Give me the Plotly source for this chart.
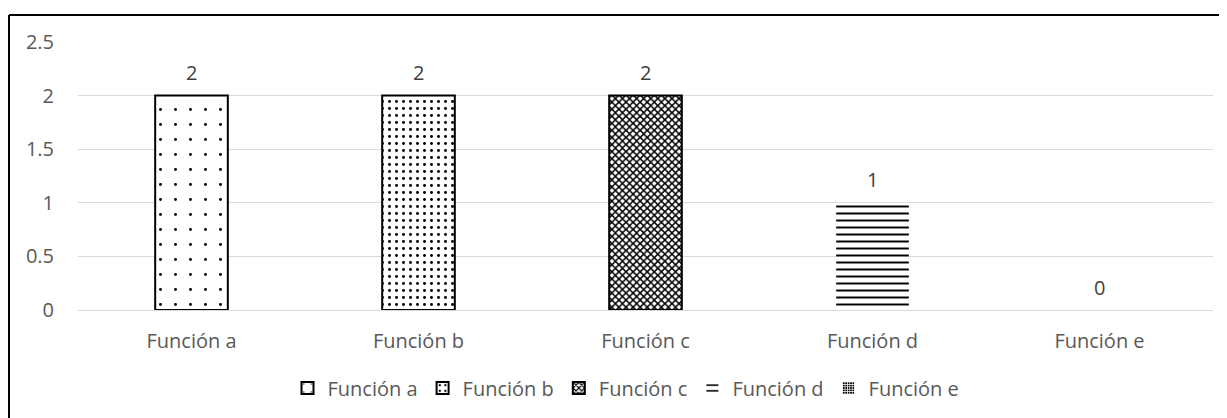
import plotly.graph_objects as go

categories = ["Función a", "Función b", "Función c", "Función d", "Función e"]
values = [2, 2, 2, 1, 0]
labels = ["2", "2", "2", "1", "0"]
y_ticks = [0, 0.5, 1, 1.5, 2, 2.5]
y_tick_text = ["0", "0.5", "1", "1.5", "2", "2.5"]

patterns = [
    dict(shape=".", size=15, solidity=0.03, fgcolor="black", bgcolor="white", fillmode="overlay", fgopacity=1),
    dict(shape=".", size=7, solidity=0.14, fgcolor="black", bgcolor="white", fillmode="overlay", fgopacity=1),
    dict(shape="x", size=5, solidity=0.5, fgcolor="black", bgcolor="white", fillmode="overlay", fgopacity=1),
    dict(shape="-", size=7, solidity=0.28, fgcolor="black", bgcolor="white", fillmode="overlay", fgopacity=1),
    dict(shape="+", size=3, solidity=0.5, fgcolor="white", bgcolor="black", fillmode="overlay", fgopacity=1),
]
line_widths = [2, 2, 2, 0, 0]

FONT = "Open Sans"
GRAY = "#595959"
FS = 20

fig = go.Figure()
for cat, val, pat, lw in zip(categories, values, patterns, line_widths):
    fig.add_trace(go.Bar(
        x=[cat], y=[val], name=cat, width=0.32,
        marker=dict(color="white", pattern=pat, line=dict(color="black", width=lw)),
        showlegend=True,
    ))

for cat, val, lab in zip(categories, values, labels):
    fig.add_annotation(x=cat, y=val, text=lab, showarrow=False, yshift=23,
                       font=dict(family=FONT, size=FS, color="#404040"))

# page has an 8px body margin, so figure coords = page coords - 8
L, R, T, B = 70, 22, 34, 116
W, H = 1227, 418
pw, ph = W - L - R, H - T - B
bx = (1 - L) / pw
by = (H - B - 7) / ph
fig.add_shape(type="line", xref="paper", yref="paper", x0=bx, x1=bx, y0=-1, y1=by,
              line=dict(color="black", width=2))
fig.add_shape(type="line", xref="paper", yref="paper", x0=bx, x1=1.2, y0=by, y1=by,
              line=dict(color="black", width=2))

fig.update_layout(
    width=W, height=H,
    margin=dict(l=L, r=R, t=T, b=B, autoexpand=False),
    paper_bgcolor="white", plot_bgcolor="white",
    barmode="overlay",
    font=dict(family=FONT, size=FS, color=GRAY),
    legend=dict(orientation="h", x=(618 - L) / pw, xanchor="center", y=(H - B - 380) / ph,
                yanchor="middle", font=dict(family=FONT, size=FS, color=GRAY),
                itemwidth=30, tracegroupgap=0),
    xaxis=dict(categoryorder="array", categoryarray=categories, showgrid=False, showline=False,
               automargin=False,
               ticks="", ticklabelstandoff=17, tickfont=dict(family=FONT, size=FS, color=GRAY)),
    yaxis=dict(range=[0, 2.5], tickvals=y_ticks, ticktext=y_tick_text, showgrid=True,
               automargin=False,
               gridcolor="#d9d9d9", gridwidth=1, zeroline=True, zerolinecolor="#d9d9d9",
               zerolinewidth=1, showline=False, ticks="", ticklabelstandoff=23,
               tickfont=dict(family=FONT, size=FS, color=GRAY)),
)

fig.write_html("out.html")
